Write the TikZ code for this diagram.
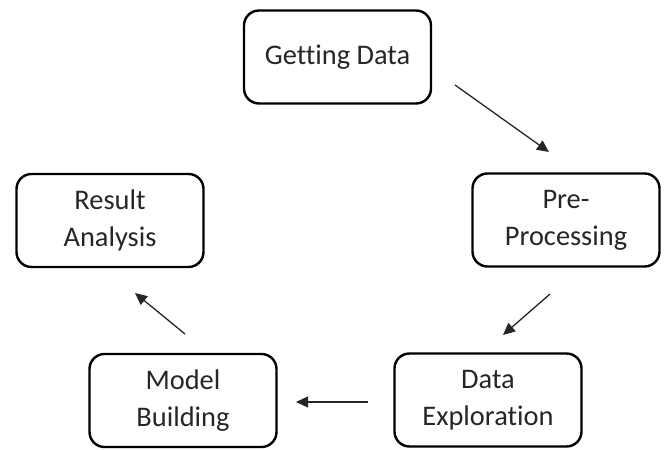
\documentclass[tikz,border=0pt]{standalone}
\usepackage{fontspec}
\setmainfont[Ligatures={NoCommon}]{Carlito}
\usetikzlibrary{arrows.meta}
\begin{document}
\begin{tikzpicture}[x=1bp,y=-1bp,
  stage/.style={draw=black, line width=2.4bp, rounded corners=15bp,
    minimum width=187bp, minimum height=93bp, align=center, inner sep=0pt,
    text=black!85, font=\fontsize{28.5}{37}\selectfont},
  flow/.style={line width=1.3bp, draw=black!85,
    -{Triangle[length=12bp,width=11bp]}}]
\useasboundingbox (0,0) rectangle (666,450);

% stages of the cycle
\node[stage] (gd) at (337.5,57) {Getting Data};
\node[stage] (pp) at (566,220) {Pre-\\Processing};
\node[stage] (de) at (488,400) {Data\\Exploration};
\node[stage] (mb) at (183,400.5) {Model\\Building};
\node[stage] (ra) at (110,220.5) {Result\\Analysis};

% free ends of the arrows between stages
\coordinate (a1s) at (455,85);
\coordinate (a1e) at (549,152);
\coordinate (a2s) at (550,294);
\coordinate (a2e) at (503,335);
\coordinate (a3s) at (368,402);
\coordinate (a3e) at (296,402);
\coordinate (a4s) at (185,334);
\coordinate (a4e) at (135,293);

\draw[flow] (a1s) -- (a1e);
\draw[flow] (a2s) -- (a2e);
\draw[flow] (a3s) -- (a3e);
\draw[flow] (a4s) -- (a4e);
\end{tikzpicture}
\end{document}
